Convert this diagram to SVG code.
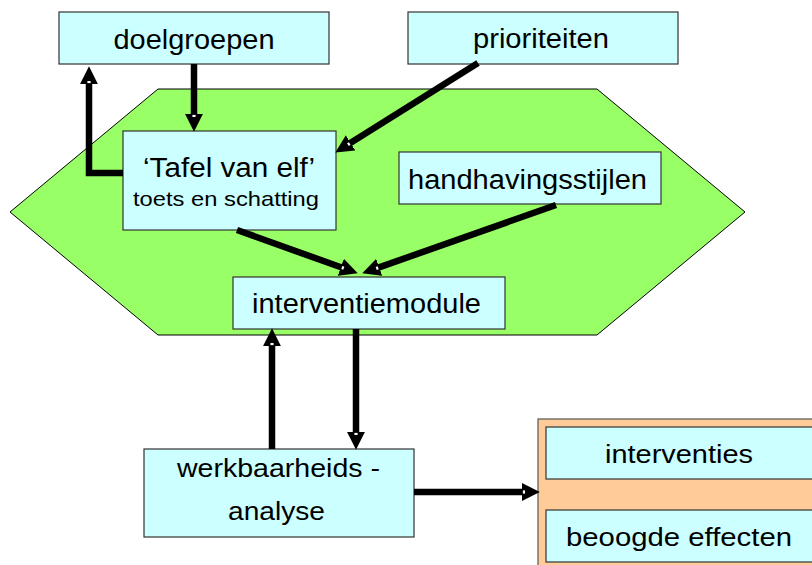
<svg xmlns="http://www.w3.org/2000/svg" width="812" height="565" viewBox="0 0 812 565">
<style>
.box{fill:#CCFFFF;stroke:#333333;stroke-width:1.2}
.t{font-family:"Liberation Sans",Arial,sans-serif;fill:#000;text-anchor:middle}
.c{fill:none;stroke:#000;stroke-width:6.5;stroke-linecap:butt;stroke-linejoin:miter}
</style>
<defs>
<marker id="ah" markerUnits="userSpaceOnUse" markerWidth="18" markerHeight="18" viewBox="0 0 17 17" refX="3" refY="8.5" orient="auto">
<path d="M0,0 L17,8.5 L0,17 z" fill="#000"/>
<rect x="1" y="7" width="2" height="3" fill="#fff"/>
</marker>
</defs>
<rect width="812" height="565" fill="#fff"/>
<g id="zone">
<polygon points="158,89 597,89 745,212 597,335 158,335 10,212" fill="#99FF66" stroke="#000" stroke-width="1"/>
</g>
<g id="output">
<rect x="538" y="419" width="290" height="160" fill="#FFCC99" stroke="#555" stroke-width="1.2"/>
</g>
<g id="doelgroepen">
<rect class="box" x="59" y="12" width="270" height="52"/>
<text class="t" x="194" y="49" font-size="27" textLength="161" lengthAdjust="spacingAndGlyphs">doelgroepen</text>
</g>
<g id="prioriteiten">
<rect class="box" x="408" y="12" width="270" height="52"/>
<text class="t" x="541" y="48" font-size="27" textLength="136" lengthAdjust="spacingAndGlyphs">prioriteiten</text>
</g>
<g id="tafel">
<rect class="box" x="123" y="131" width="213" height="99"/>
<text class="t" x="229" y="177" font-size="27" textLength="172" lengthAdjust="spacingAndGlyphs">‘Tafel van elf’</text>
<text class="t" x="226" y="206" font-size="21" textLength="186" lengthAdjust="spacingAndGlyphs">toets en schatting</text>
</g>
<g id="handhavingsstijlen">
<rect class="box" x="399" y="152" width="262" height="52"/>
<text class="t" x="527.5" y="189" font-size="27" textLength="239" lengthAdjust="spacingAndGlyphs">handhavingsstijlen</text>
</g>
<g id="interventiemodule">
<rect class="box" x="233" y="277" width="272" height="52"/>
<text class="t" x="366.5" y="313" font-size="27" textLength="229" lengthAdjust="spacingAndGlyphs">interventiemodule</text>
</g>
<g id="werkbaarheidsanalyse">
<rect class="box" x="144" y="449" width="270" height="88"/>
<text class="t" x="278.5" y="477" font-size="25" textLength="203" lengthAdjust="spacingAndGlyphs">werkbaarheids -</text>
<text class="t" x="276.5" y="520" font-size="25" textLength="97" lengthAdjust="spacingAndGlyphs">analyse</text>
</g>
<g id="interventies">
<rect class="box" x="546" y="427" width="280" height="52"/>
<text class="t" x="679" y="463" font-size="26" textLength="148" lengthAdjust="spacingAndGlyphs">interventies</text>
</g>
<g id="beoogde-effecten">
<rect class="box" x="546" y="510" width="280" height="52"/>
<text class="t" x="679" y="546" font-size="26" textLength="226" lengthAdjust="spacingAndGlyphs">beoogde effecten</text>
</g>
<g id="connectors">
<path class="c" d="M194,64 V117" marker-end="url(#ah)"/>
<path class="c" d="M123,173 H89 V81" marker-end="url(#ah)"/>
<path class="c" d="M478,63 L347.9,144.6" marker-end="url(#ah)"/>
<path class="c" d="M237,230 L343.8,268.3" marker-end="url(#ah)"/>
<path class="c" d="M556,205 L376.2,268.4" marker-end="url(#ah)"/>
<path class="c" d="M356,329 V435" marker-end="url(#ah)"/>
<path class="c" d="M272,449 V343" marker-end="url(#ah)"/>
<path class="c" d="M414,492 H525" marker-end="url(#ah)"/>
</g>
</svg>
